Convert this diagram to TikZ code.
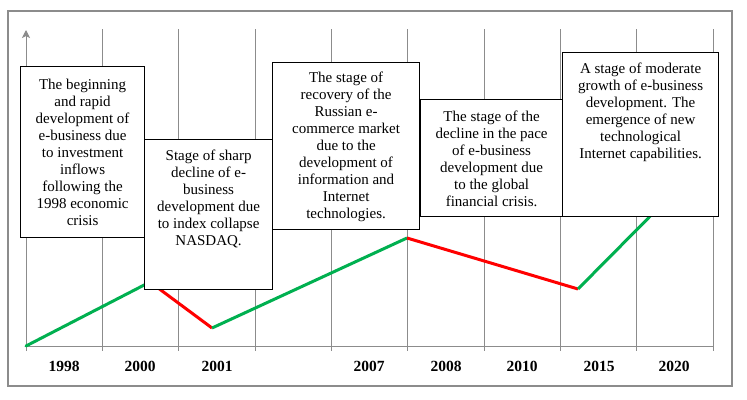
\documentclass[tikz,border=0pt]{standalone}
\usepackage{fontspec}
\setmainfont{Liberation Serif}
\usetikzlibrary{arrows.meta,calc}
\definecolor{gridgray}{HTML}{8C8C8C}
\definecolor{upgreen}{HTML}{00B050}
\definecolor{downred}{HTML}{FF0000}
\begin{document}
\begin{tikzpicture}[x=1pt,y=-1pt,
  frame/.style={draw=gridgray,line width=1.2pt},
  gridline/.style={draw=gridgray,line width=0.9pt},
  upseg/.style={draw=upgreen,line width=3pt},
  downseg/.style={draw=downred,line width=3pt},
  stagebox/.style={draw=black,fill=white,line width=1.2pt,inner sep=0pt,anchor=north west},
  stagetext/.style={align=center,inner sep=0pt,anchor=north,font=\fontsize{15}{17}\selectfont},
  yearlbl/.style={font=\fontsize{15.5}{17}\selectfont\bfseries,inner sep=0pt}]
\useasboundingbox (0,0) rectangle (747,399);
\fill[white] (0,0) rectangle (747,399);
\draw[frame] (8,11) rectangle (732,386);
% grid
\foreach \gx in {102,178,255,331,407,484,560,636,713}{
  \draw[gridline] (\gx,29) -- (\gx,351);
}
\coordinate (axb) at (26,351);
\coordinate (axt) at (26,30);
\draw[gridline,-{Stealth[length=8pt,width=8pt,inset=2pt]}] (axb) -- (axt);
\coordinate (bl) at (26,346);
\coordinate (br) at (713,346);
\draw[gridline] (bl) -- (br);
% years
\node[yearlbl] (y1998) at (64,366) {1998};
\node[yearlbl] (y2000) at (140,366) {2000};
\node[yearlbl] (y2001) at (217,366) {2001};
\node[yearlbl] (y2007) at (369,366) {2007};
\node[yearlbl] (y2008) at (446,366) {2008};
\node[yearlbl] (y2010) at (522,366) {2010};
\node[yearlbl] (y2015) at (599,366) {2015};
\node[yearlbl] (y2020) at (674,366) {2020};
% trend line
\coordinate (pa) at (26,346);
\coordinate (pb) at (150,282);
\coordinate (pc) at (212,328);
\coordinate (pd) at (407,238);
\coordinate (pe) at (578,289);
\coordinate (pf) at (690,176);
\draw[upseg,line cap=round] (pa) -- (pb);
\draw[downseg] (pb) -- (pc);
\draw[upseg] (pc) -- (pd);
\draw[downseg] (pd) -- (pe);
\draw[upseg] (pe) -- (pf);
% boxes
\node[stagebox,minimum width=124pt,minimum height=171pt] (b1) at (20,66) {};
\node[stagetext] (t1) at ($(b1.north)+(0,13)$) {The beginning\\and rapid\\development of\\e-business due\\to investment\\inflows\\following the\\1998 economic\\crisis};
\node[stagebox,minimum width=128pt,minimum height=150pt] (b2) at (144,139) {};
\node[stagetext] (t2) at ($(b2.north)+(0,11)$) {Stage of sharp\\decline of e-\\business\\development due\\to index collapse\\NASDAQ.};
\node[stagebox,minimum width=147pt,minimum height=167pt] (b3) at (272,62) {};
\node[stagetext] (t3) at ($(b3.north)+(0,10)$) {The stage of\\recovery of the\\Russian e-\\commerce market\\due to the\\development of\\information and\\Internet\\technologies.};
\node[stagebox,minimum width=142pt,minimum height=117pt] (b4) at (420,99) {};
\node[stagetext] (t4) at ($(b4.north)+(0,12)$) {The stage of the\\decline in the pace\\of e-business\\development due\\to the global\\financial crisis.};
\node[stagebox,minimum width=156pt,minimum height=164pt] (b5) at (562,52) {};
\node[stagetext] (t5) at ($(b5.north)+(0,11)$) {A stage of moderate\\growth of e-business\\development. The\\emergence of new\\technological\\Internet capabilities.};
\end{tikzpicture}
\end{document}
